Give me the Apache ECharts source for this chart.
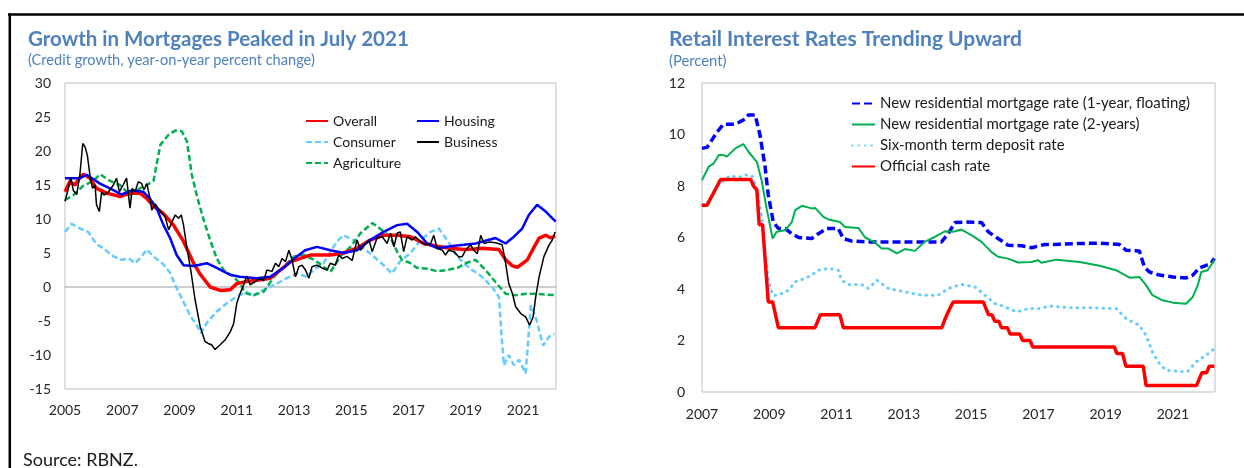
<!DOCTYPE html>
<html>
<head>
<meta charset="utf-8">
<script src="https://cdn.jsdelivr.net/npm/echarts@6.0.0/dist/echarts.min.js"></script>
<style>
  html, body { margin: 0; padding: 0; background: #fff; }
  #chart { width: 1244px; height: 468px; }
</style>
</head>
<body>
<div id="chart"></div>
<script>
const FONT = 'Lato, "Open Sans", sans-serif';
const TITLE_BLUE = "#4F81BD";
const TEXT = "#262626";
const FRAME = "#bfbfbf";

// left panel: credit growth, [year, % y/y]
const overall = [[2005.0,14.0],[2005.17,15.5],[2005.35,15.0],[2005.5,16.0],[2005.64,16.6],[2005.87,16.0],[2006.1,14.5],[2006.46,13.8],[2006.92,13.3],[2007.27,13.8],[2007.62,13.8],[2007.86,13.0],[2008.09,11.9],[2008.44,10.8],[2008.79,9.1],[2009.14,6.7],[2009.37,4.6],[2009.49,3.5],[2009.72,1.9],[2010.07,0.0],[2010.42,-0.5],[2010.77,-0.4],[2011.0,0.5],[2011.35,0.8],[2011.7,1.0],[2012.17,1.3],[2012.52,2.5],[2012.87,3.7],[2013.22,4.2],[2013.57,4.7],[2014.0,4.7],[2014.27,4.7],[2014.73,5.0],[2015.2,5.7],[2015.66,6.9],[2016.13,7.6],[2016.6,7.6],[2017.07,7.4],[2017.53,6.4],[2018.0,6.0],[2018.46,5.7],[2018.93,5.5],[2019.3,5.6],[2019.57,5.7],[2020.16,5.5],[2020.39,4.0],[2020.63,3.1],[2020.8,2.9],[2021.15,4.0],[2021.39,5.9],[2021.56,7.2],[2021.79,7.6],[2021.97,7.2],[2022.12,7.5]];
const housing = [[2005.0,16.0],[2005.52,16.0],[2005.76,16.5],[2006.22,15.2],[2006.57,14.5],[2006.98,13.6],[2007.33,14.2],[2007.74,14.0],[2007.97,13.0],[2008.2,11.6],[2008.44,9.1],[2008.67,7.2],[2008.9,4.7],[2009.14,3.2],[2009.5,3.1],[2009.95,3.5],[2010.3,2.8],[2010.77,1.8],[2011.1,1.5],[2011.7,1.3],[2012.17,1.5],[2012.63,2.8],[2013.1,4.5],[2013.39,5.4],[2013.8,5.9],[2014.27,5.4],[2014.73,5.0],[2015.2,5.4],[2015.66,6.9],[2016.13,8.1],[2016.6,9.1],[2016.95,9.3],[2017.3,8.1],[2017.65,6.4],[2018.0,5.7],[2018.46,6.0],[2018.93,6.2],[2019.34,6.4],[2020.04,7.2],[2020.39,6.4],[2020.68,7.4],[2020.97,8.6],[2021.2,10.6],[2021.49,12.1],[2021.79,11.1],[2022.14,9.6]];
const consumer = [[2005.0,8.1],[2005.23,9.3],[2005.52,8.6],[2005.81,8.1],[2006.1,6.3],[2006.34,5.7],[2006.69,4.5],[2006.98,4.0],[2007.22,4.2],[2007.45,3.5],[2007.68,4.5],[2007.86,5.5],[2008.09,4.5],[2008.44,3.3],[2008.67,2.1],[2008.85,0.3],[2009.08,-1.7],[2009.37,-4.2],[2009.6,-5.6],[2009.75,-6.8],[2009.95,-5.3],[2010.3,-3.6],[2010.65,-2.4],[2011.0,-1.4],[2011.35,-0.7],[2011.55,-1.4],[2011.7,-0.9],[2012.05,-0.2],[2012.4,0.5],[2012.75,1.3],[2013.1,2.0],[2013.45,1.5],[2013.68,2.5],[2014.03,3.5],[2014.27,5.2],[2014.5,6.7],[2014.73,7.6],[2015.08,6.9],[2015.43,5.7],[2015.78,4.5],[2016.13,3.2],[2016.42,2.0],[2016.71,3.8],[2017.07,5.0],[2017.42,6.9],[2017.77,8.1],[2018.06,8.6],[2018.35,6.9],[2018.7,4.5],[2018.93,3.5],[2019.22,2.5],[2019.57,1.5],[2019.92,0.0],[2020.16,-1.5],[2020.25,-7.3],[2020.33,-11.5],[2020.5,-10.0],[2020.68,-11.5],[2020.86,-10.7],[2021.09,-12.7],[2021.27,-2.7],[2021.44,-4.4],[2021.7,-8.6],[2021.91,-7.3],[2022.1,-6.9]];
const business = [[2005.0,12.6],[2005.12,14.5],[2005.2,16.1],[2005.29,14.2],[2005.41,13.6],[2005.52,16.5],[2005.62,21.1],[2005.7,20.6],[2005.78,19.4],[2005.87,16.5],[2005.96,14.5],[2006.05,15.0],[2006.1,12.1],[2006.2,11.1],[2006.28,14.0],[2006.36,13.5],[2006.52,14.0],[2006.69,15.0],[2006.8,16.0],[2006.9,14.0],[2007.03,15.0],[2007.15,16.0],[2007.27,11.6],[2007.35,14.5],[2007.45,14.0],[2007.56,15.5],[2007.68,15.2],[2007.76,14.3],[2007.86,15.2],[2007.97,13.0],[2008.03,11.3],[2008.15,12.2],[2008.33,11.1],[2008.5,10.3],[2008.62,8.4],[2008.74,9.6],[2008.85,10.6],[2008.97,10.1],[2009.06,10.6],[2009.14,9.1],[2009.26,5.7],[2009.4,2.3],[2009.54,-1.8],[2009.72,-5.8],[2009.89,-8.0],[2010.0,-8.3],[2010.12,-8.5],[2010.24,-9.2],[2010.42,-8.5],[2010.59,-7.8],[2010.77,-6.6],[2010.89,-5.4],[2011.0,-2.4],[2011.12,-0.9],[2011.24,0.3],[2011.35,1.6],[2011.47,0.3],[2011.64,0.8],[2011.82,1.3],[2011.94,0.9],[2012.05,2.5],[2012.23,2.3],[2012.35,3.5],[2012.47,3.0],[2012.58,4.2],[2012.7,3.7],[2012.82,5.4],[2012.93,4.0],[2013.05,1.5],[2013.17,3.0],[2013.28,3.2],[2013.4,2.5],[2013.52,1.3],[2013.63,3.0],[2013.8,3.2],[2013.98,2.8],[2014.15,2.5],[2014.27,3.5],[2014.44,3.2],[2014.56,4.7],[2014.68,4.2],[2014.85,4.5],[2015.03,3.9],[2015.2,6.9],[2015.32,5.4],[2015.5,6.4],[2015.62,6.9],[2015.73,5.2],[2015.9,7.2],[2016.08,7.4],[2016.25,6.4],[2016.37,7.9],[2016.49,5.9],[2016.6,7.9],[2016.71,8.1],[2016.83,5.2],[2016.95,7.4],[2017.12,6.9],[2017.24,7.4],[2017.42,6.7],[2017.59,6.2],[2017.77,6.4],[2017.88,7.6],[2018.0,5.7],[2018.18,5.4],[2018.29,4.7],[2018.4,5.4],[2018.58,5.2],[2018.76,4.4],[2018.88,4.5],[2018.99,5.4],[2019.17,6.2],[2019.28,5.4],[2019.4,4.9],[2019.52,7.6],[2019.64,6.4],[2019.81,6.6],[2020.04,6.5],[2020.27,6.2],[2020.39,3.5],[2020.5,0.5],[2020.63,-1.0],[2020.74,-2.9],[2020.92,-3.9],[2021.09,-4.4],[2021.23,-5.6],[2021.35,-4.4],[2021.44,-1.5],[2021.56,1.5],[2021.73,4.5],[2021.91,6.2],[2022.02,6.9],[2022.12,8.1]];
const agriculture = [[2005.0,12.8],[2005.29,13.5],[2005.64,14.9],[2005.99,15.6],[2006.22,16.6],[2006.57,15.6],[2006.92,15.0],[2007.27,13.5],[2007.62,14.5],[2007.86,15.0],[2008.09,15.6],[2008.33,20.9],[2008.62,22.4],[2008.85,23.0],[2009.08,22.9],[2009.26,21.4],[2009.43,16.5],[2009.6,13.5],[2009.84,9.9],[2010.07,6.9],[2010.3,4.2],[2010.54,2.5],[2010.89,1.5],[2011.12,0.5],[2011.3,-0.9],[2011.59,-1.2],[2011.94,-0.7],[2012.3,1.5],[2012.65,3.0],[2013.0,4.5],[2013.35,4.7],[2013.7,4.0],[2014.03,3.0],[2014.27,2.2],[2014.62,4.5],[2014.97,5.9],[2015.32,7.9],[2015.73,9.4],[2016.0,8.6],[2016.35,7.4],[2016.6,5.2],[2016.77,4.0],[2017.07,3.5],[2017.3,2.8],[2017.65,2.7],[2018.0,2.3],[2018.35,2.5],[2018.7,2.8],[2018.99,3.5],[2019.34,4.0],[2019.69,2.5],[2020.04,0.7],[2020.39,-1.0],[2020.74,-1.2],[2021.09,-1.0],[2021.44,-1.0],[2021.79,-1.1],[2022.1,-1.2]];

// right panel: retail rates, [year, %]
const floating = [[2007.0,9.46],[2007.15,9.5],[2007.45,10.1],[2007.64,10.4],[2007.99,10.4],[2008.28,10.6],[2008.38,10.76],[2008.58,10.76],[2008.72,10.0],[2008.87,8.8],[2008.97,7.65],[2009.12,6.6],[2009.27,6.35],[2009.47,6.35],[2009.67,6.15],[2009.87,6.0],[2010.26,5.96],[2010.46,6.15],[2010.71,6.35],[2011.05,6.35],[2011.2,5.96],[2011.45,5.86],[2012.0,5.83],[2013.0,5.83],[2014.12,5.83],[2014.32,6.15],[2014.52,6.58],[2014.81,6.6],[2015.31,6.58],[2015.51,6.22],[2015.8,5.96],[2016.1,5.7],[2016.5,5.68],[2016.8,5.6],[2017.19,5.73],[2017.44,5.73],[2018.03,5.76],[2018.82,5.78],[2019.41,5.73],[2019.61,5.5],[2020.0,5.48],[2020.15,4.86],[2020.3,4.66],[2020.6,4.54],[2021.0,4.47],[2021.39,4.43],[2021.59,4.54],[2021.79,4.82],[2021.99,4.92],[2022.13,4.99],[2022.23,5.18]];
const twoYear = [[2007.0,8.23],[2007.2,8.75],[2007.35,8.88],[2007.5,9.2],[2007.64,9.2],[2007.74,9.14],[2007.99,9.46],[2008.23,9.63],[2008.38,9.33],[2008.63,8.94],[2008.78,8.17],[2008.92,7.13],[2009.1,5.96],[2009.22,6.22],[2009.47,6.28],[2009.67,6.6],[2009.77,7.06],[2009.97,7.23],[2010.26,7.13],[2010.36,7.15],[2010.61,6.8],[2010.76,6.7],[2011.1,6.6],[2011.25,6.41],[2011.65,6.37],[2011.85,6.0],[2012.15,5.8],[2012.34,5.57],[2012.54,5.57],[2012.79,5.38],[2013.03,5.55],[2013.33,5.48],[2013.62,5.83],[2013.92,6.02],[2014.22,6.24],[2014.47,6.22],[2014.71,6.31],[2015.01,6.09],[2015.31,5.83],[2015.6,5.44],[2015.8,5.25],[2016.1,5.18],[2016.39,5.03],[2016.79,5.05],[2016.99,5.12],[2017.09,5.02],[2017.53,5.14],[2018.23,5.05],[2018.82,4.9],[2019.31,4.73],[2019.71,4.44],[2020.0,4.47],[2020.2,4.15],[2020.39,3.76],[2020.69,3.56],[2021.0,3.47],[2021.39,3.43],[2021.59,3.69],[2021.74,4.15],[2021.84,4.66],[2022.03,4.73],[2022.23,5.12]];
const deposit = [[2007.0,7.26],[2007.2,7.39],[2007.4,7.91],[2007.6,8.17],[2007.84,8.4],[2008.09,8.33],[2008.28,8.43],[2008.48,8.4],[2008.63,7.91],[2008.78,6.74],[2008.87,5.44],[2008.97,4.4],[2009.1,3.76],[2009.27,3.76],[2009.57,3.95],[2009.77,4.28],[2010.06,4.41],[2010.26,4.54],[2010.46,4.73],[2010.76,4.8],[2011.05,4.73],[2011.15,4.35],[2011.35,4.17],[2011.75,4.17],[2011.95,4.02],[2012.2,4.34],[2012.54,4.02],[2013.03,3.89],[2013.53,3.76],[2014.02,3.76],[2014.32,4.02],[2014.71,4.18],[2015.11,4.08],[2015.41,3.76],[2015.7,3.44],[2016.0,3.31],[2016.35,3.11],[2016.7,3.24],[2017.04,3.24],[2017.34,3.34],[2017.93,3.27],[2018.52,3.27],[2019.31,3.24],[2019.61,2.85],[2020.0,2.59],[2020.2,2.2],[2020.39,1.55],[2020.6,1.1],[2020.79,0.85],[2021.19,0.8],[2021.44,0.8],[2021.69,1.17],[2021.99,1.43],[2022.23,1.68]];
const ocr = [[2007.0,7.25],[2007.15,7.25],[2007.25,7.5],[2007.35,7.75],[2007.45,8.0],[2007.55,8.25],[2008.45,8.25],[2008.53,8.0],[2008.63,7.85],[2008.7,6.5],[2008.8,6.5],[2008.97,3.5],[2009.1,3.5],[2009.27,2.5],[2010.36,2.5],[2010.52,3.0],[2011.1,3.0],[2011.2,2.5],[2014.13,2.5],[2014.2,2.75],[2014.28,3.0],[2014.37,3.25],[2014.47,3.5],[2015.36,3.5],[2015.44,3.25],[2015.52,3.0],[2015.62,3.0],[2015.7,2.75],[2015.82,2.75],[2015.9,2.5],[2016.08,2.5],[2016.16,2.25],[2016.45,2.25],[2016.53,2.0],[2016.75,2.0],[2016.83,1.75],[2019.26,1.75],[2019.33,1.5],[2019.5,1.5],[2019.6,1.0],[2020.12,1.0],[2020.2,0.25],[2021.7,0.25],[2021.78,0.5],[2021.86,0.75],[2022.0,0.75],[2022.08,1.0],[2022.23,1.0]];

const oddYear = (v) => (Math.abs(v % 2 - 1) < 1e-6 ? String(v) : "");

const chart = echarts.init(document.getElementById("chart"), null, { renderer: "canvas" });

const label = (margin) => ({
  color: TEXT, fontSize: 14, fontFamily: FONT, margin,
});
const line = (name, data, xi, color, width, type, z) => ({
  name, type: "line", data, xAxisIndex: xi, yAxisIndex: xi === 2 ? 1 : 0,
  showSymbol: false, symbol: "none", smooth: false, animation: false, z: z || 2,
  lineStyle: { color, width, type: type || "solid", cap: type && type[0] < 1 ? "round" : "butt" },
  itemStyle: { color },
});
const legendBase = (fontSize) => ({
  orient: "vertical", padding: 0, itemHeight: 14,
  itemStyle: { opacity: 0 },
  textStyle: { color: "#1a1a1a", fontSize, fontFamily: FONT },
});

chart.setOption({
  backgroundColor: "#fff",
  animation: false,
  textStyle: { fontFamily: FONT },
  title: [
    { text: "Growth in Mortgages Peaked in July 2021", left: 28, top: 29, padding: 0,
      textStyle: { color: TITLE_BLUE, fontSize: 20.5, fontWeight: "bold", fontFamily: FONT } },
    { text: "(Credit growth, year-on-year percent change)", left: 28, top: 53, padding: 0,
      textStyle: { color: TITLE_BLUE, fontSize: 14.6, fontWeight: "normal", fontFamily: FONT } },
    { text: "Retail Interest Rates Trending Upward", left: 669, top: 29, padding: 0,
      textStyle: { color: TITLE_BLUE, fontSize: 21, fontWeight: "bold", fontFamily: FONT } },
    { text: "(Percent)", left: 669, top: 54, padding: 0,
      textStyle: { color: TITLE_BLUE, fontSize: 14.8, fontWeight: "normal", fontFamily: FONT } },
    { text: "Source: RBNZ.", left: 23, top: 451, padding: 0,
      textStyle: { color: "#1a1a1a", fontSize: 18, fontWeight: "normal", fontFamily: FONT } },
  ],
  graphic: [
    { type: "line", silent: true, shape: { x1: 8, y1: 14.5, x2: 1244, y2: 14.5 },
      style: { stroke: "#000", lineWidth: 2.5 } },
    { type: "line", silent: true, shape: { x1: 9.8, y1: 13.5, x2: 9.8, y2: 468 },
      style: { stroke: "#000", lineWidth: 2.5 } },
  ],
  legend: [
    { ...legendBase(14), data: ["Overall", "Consumer", "Agriculture"],
      left: 305, top: 114, itemWidth: 22, itemGap: 7 },
    { ...legendBase(14), data: ["Housing", "Business"],
      left: 416, top: 114, itemWidth: 22, itemGap: 7 },
    { ...legendBase(15), data: ["New residential mortgage rate (1-year, floating)",
        "New residential mortgage rate (2-years)", "Six-month term deposit rate", "Official cash rate"],
      left: 851, top: 96, itemWidth: 23, itemGap: 6 },
  ],
  grid: [
    { left: 65, top: 83, width: 491, height: 306, show: true, borderColor: FRAME, borderWidth: 1 },
    { left: 702, top: 83, width: 513, height: 309, show: true, borderColor: FRAME, borderWidth: 1 },
  ],
  xAxis: [
    { gridIndex: 0, type: "value", min: 2005, max: 2022.15, interval: 1,
      axisLine: { show: false, onZero: false }, axisTick: { show: false }, splitLine: { show: false },
      axisLabel: { ...label(14), formatter: oddYear } },
    { gridIndex: 0, type: "value", min: 2005, max: 2022.15, interval: 1,
      axisLine: { show: true, onZero: true, lineStyle: { color: FRAME, width: 1.5 } },
      axisTick: { show: false }, splitLine: { show: false }, axisLabel: { show: false } },
    { gridIndex: 1, type: "value", min: 2007, max: 2022.25, interval: 1,
      axisLine: { show: false, onZero: false }, axisTick: { show: false }, splitLine: { show: false },
      axisLabel: { ...label(15), formatter: oddYear } },
  ],
  yAxis: [
    { gridIndex: 0, type: "value", min: -15, max: 30, interval: 5,
      axisLine: { show: false }, axisTick: { show: false }, splitLine: { show: false },
      axisLabel: label(14) },
    { gridIndex: 1, type: "value", min: 0, max: 12, interval: 2,
      axisLine: { show: false }, axisTick: { show: false }, splitLine: { show: false },
      axisLabel: label(17) },
  ],
  series: [
    line("Consumer", consumer, 0, "#66CCFF", 2.5, [6, 3]),
    line("Agriculture", agriculture, 0, "#00B050", 2.5, [6, 3]),
    line("Overall", overall, 0, "#FF0000", 3.5, null, 3),
    line("Housing", housing, 0, "#0000FF", 2.5, null, 3),
    line("Business", business, 0, "#000000", 1.5, null, 4),
    line("New residential mortgage rate (1-year, floating)", floating, 2, "#0000FF", 3.5, [8, 4]),
    line("New residential mortgage rate (2-years)", twoYear, 2, "#00B050", 2),
    line("Six-month term deposit rate", deposit, 2, "#66CCFF", 3, [0.5, 6]),
    line("Official cash rate", ocr, 2, "#FF0000", 3.5),
  ],
});
</script>
</body>
</html>
